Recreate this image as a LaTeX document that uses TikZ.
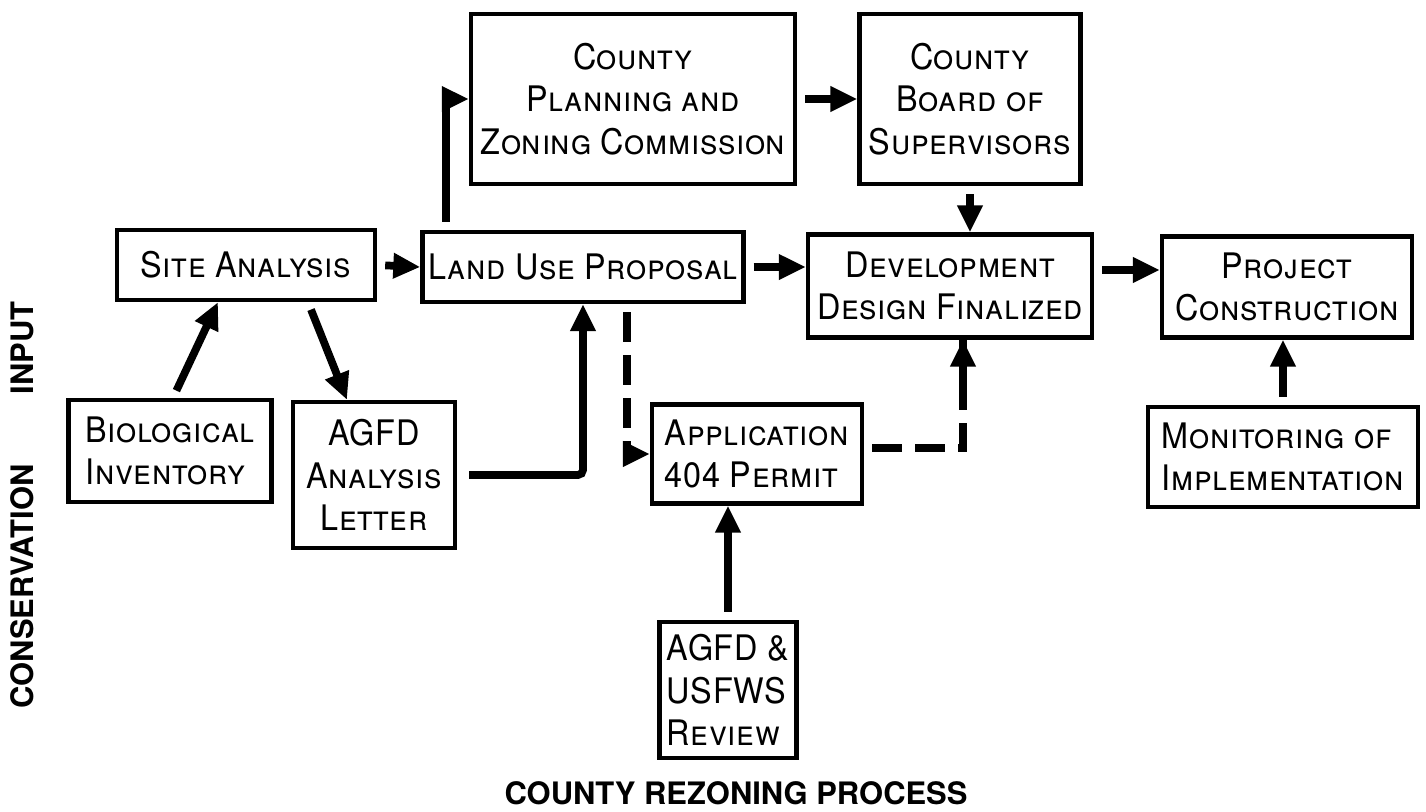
\documentclass[tikz,border=0pt]{standalone}
\usepackage{fontspec}
\setmainfont{TeX Gyre Heros}
\newfontfamily\boxfont[FakeStretch=0.92,LetterSpace=2]{TeX Gyre Heros}
\usetikzlibrary{arrows.meta}

\tikzset{
  box/.style={draw, line width=1.2pt, inner sep=0pt, align=center, font=\boxfont\scshape},
  lbox/.style={box, align=left},
  arr/.style={line width=2.2pt, -{Triangle[length=0.27cm,width=0.24cm]}, shorten <=0.08cm},
  dsh/.style={arr, dash pattern=on 0.3cm off 0.13cm},
  title/.style={font=\bfseries\fontsize{8.8}{10}\selectfont}
}

\begin{document}
\begin{tikzpicture}[x=0.01cm,y=-0.01cm]
            \useasboundingbox (0,0) rectangle (1426,811);
            \node (czc) at (633,99) [box,minimum width=3.24cm,minimum height=1.7cm] {County\\Planning and\\Zoning Commission};
            \node (bos) at (970,99) [box,minimum width=2.21cm,minimum height=1.7cm] {County\\Board of\\Supervisors};
            \node (site) at (246,265) [box,minimum width=2.58cm,minimum height=0.7cm] {Site Analysis};
            \node (lup) at (583,267) [box,minimum width=3.21cm,minimum height=0.7cm] {Land Use Proposal};
            \node (ddf) at (950,286) [box,minimum width=2.84cm,minimum height=1.03cm] {Development\\Design Finalized};
            \node (proj) at (1287,287) [box,minimum width=2.5cm,minimum height=1.01cm] {Project\\Construction};
            \node (bio) at (170,451) [lbox,minimum width=2.03cm,minimum height=1.02cm] {Biological\\Inventory};
            \node (agfd) at (374,475) [box,minimum width=1.62cm,minimum height=1.46cm] {AGFD\\Analysis\\Letter};
            \node (app) at (757,454) [lbox,minimum width=2.1cm,minimum height=0.99cm] {Application\\404 Permit};
            \node (mon) at (1283,457) [lbox,minimum width=2.7cm,minimum height=1cm] {Monitoring of\\Implementation};
            \node (rev) at (728,690) [lbox,minimum width=1.37cm,minimum height=1.36cm] {AGFD \&\\USFWS\\Review};

            \draw[arr] (site.east) -- (lup.west);
            \draw[arr] ([xshift=0.26cm]lup.north west) |- (czc.west);
            \draw[arr] (czc.east) -- (bos.west);
            \draw[arr] (bos.south) -- (bos.south |- ddf.north);
            \draw[arr] (lup.east) -- (lup.east -| ddf.west);
            \draw[arr] ([yshift=0.16cm]ddf.east) -- ([yshift=0.16cm]ddf.east -| proj.west);
            \draw[arr] ([xshift=0.03cm]bio.north) -- ([xshift=-0.28cm]site.south);
            \draw[arr] ([xshift=0.62cm]site.south) -- ([xshift=-0.27cm]agfd.north);
            \draw[arr,rounded corners=0.05cm] ([xshift=0.04cm]agfd.east) -| (lup.south);
            \draw[dsh] ([xshift=0.44cm]lup.south) |- (app.west);
            \draw[dsh,-] ([yshift=0.06cm]app.east) -| ([xshift=0.13cm]ddf.south);
            \draw[arr] ([xshift=0.13cm,yshift=-0.55cm]ddf.south) -- ([xshift=0.13cm]ddf.south);
            \draw[arr] (rev.north) -- (rev.north |- app.south);
            \draw[arr] (mon.north) -- (mon.north |- proj.south);

            \node (lbl) at (22,505) [title,rotate=90] {CONSERVATION\hspace{0.7cm}INPUT};
            \node (ttl) at (736,793) [title] {COUNTY REZONING PROCESS};
        \end{tikzpicture}
\end{document}
